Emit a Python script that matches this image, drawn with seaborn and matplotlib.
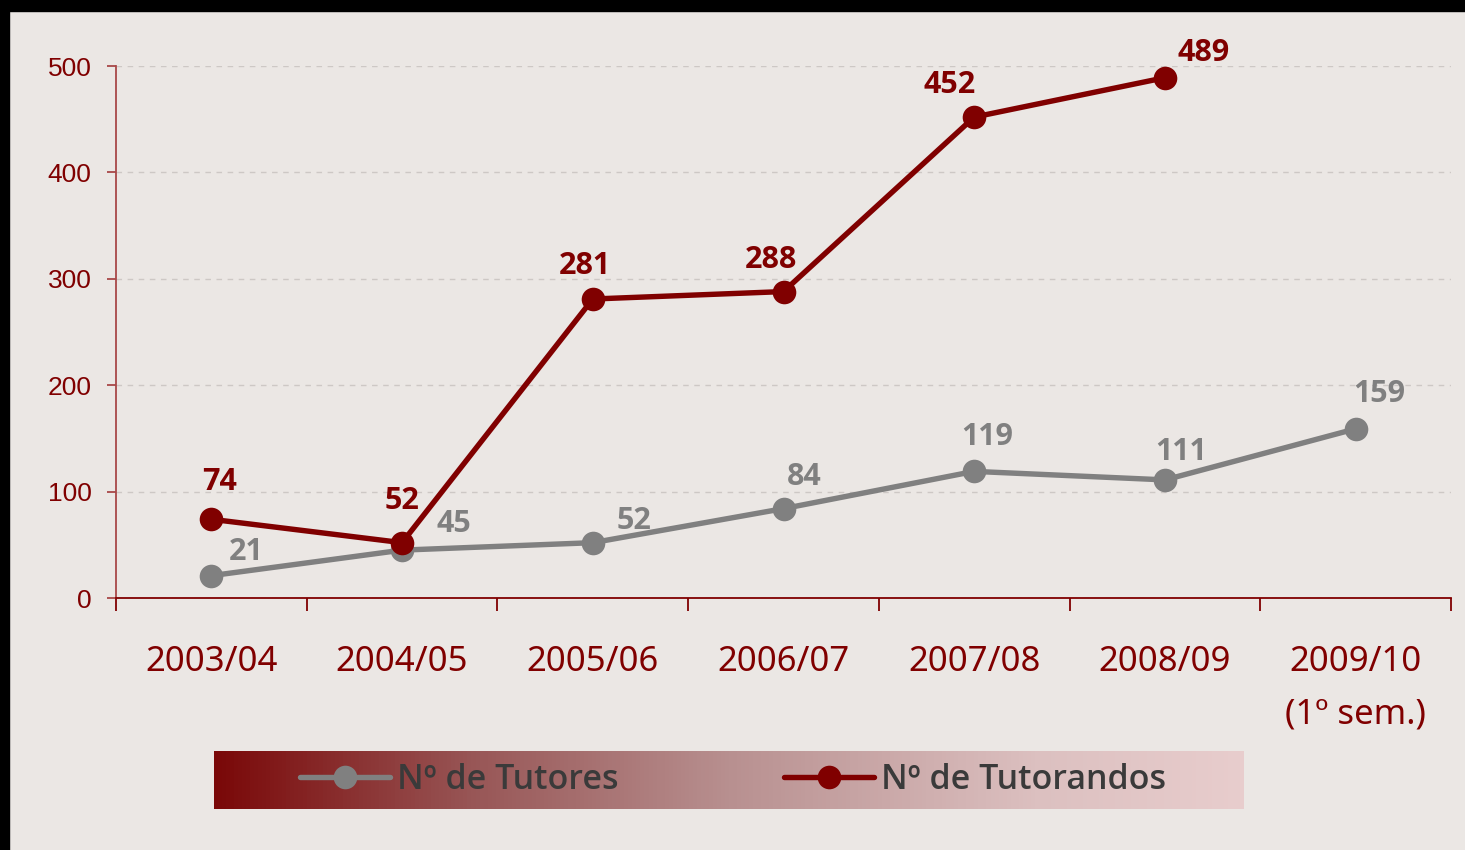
import numpy as np
import pandas as pd
import matplotlib
matplotlib.use("Agg")
import matplotlib.pyplot as plt
from matplotlib.colors import LinearSegmentedColormap
from matplotlib.lines import Line2D
from matplotlib.patches import Rectangle
import seaborn as sns

# dados
anos = ["2003/04", "2004/05", "2005/06", "2006/07", "2007/08", "2008/09", "2009/10\n(1º sem.)"]
tutores = [21, 45, 52, 84, 119, 111, 159]
tutorandos = [74, 52, 281, 288, 452, 489]
series = ["Nº de Tutores", "Nº de Tutorandos"]

# deslocamento dos rótulos (pontos)
off_tut = [(25, 11), (37, 13), (30, 10), (15, 17), (9, 19), (12, 14), (17, 19)]
off_tdo = [(6, 21), (0, 24), (-6, 18), (-9, 17), (-18, 17), (28, 12)]

VERM = "#800000"
CINZA = "#808080"
FUNDO = "#EBE7E4"

df = pd.concat([
    pd.DataFrame({"ano": anos, "valor": tutores, "serie": series[0]}),
    pd.DataFrame({"ano": anos[:len(tutorandos)], "valor": tutorandos, "serie": series[1]}),
], ignore_index=True)

sns.set_theme(style="white")
plt.rcParams["font.family"] = ["Noto Sans", "DejaVu Sans"]

fig = plt.figure(figsize=(14.65, 8.5), dpi=100, facecolor=FUNDO)
ax = fig.add_axes([116 / 1465, 1 - 598 / 850, 1335 / 1465, 532 / 850])
ax.set_facecolor(FUNDO)
ax.set_zorder(1)

sns.lineplot(data=df, x="ano", y="valor", hue="serie", hue_order=series,
             palette=[CINZA, VERM], marker="o", markersize=17, markeredgewidth=0,
             linewidth=3.9, sort=False, legend=False, ax=ax)

for i, v in enumerate(tutores):
    ax.annotate(str(v), (i, v), xytext=off_tut[i], textcoords="offset points",
                ha="center", va="baseline", fontsize=22, fontweight="bold",
                family="Open Sans", color=CINZA)
for i, v in enumerate(tutorandos):
    ax.annotate(str(v), (i, v), xytext=off_tdo[i], textcoords="offset points",
                ha="center", va="baseline", fontsize=22, fontweight="bold",
                family="Open Sans", color=VERM)

ax.set_xlim(-0.5, 6.5)
ax.set_ylim(0, 500)
ax.set_xlabel("")
ax.set_ylabel("")

ax.set_xticks(np.arange(-0.5, 7, 1))
ax.set_xticklabels([])
ax.set_xticks(range(len(anos)), labels=anos, minor=True)
ax.tick_params(axis="x", which="major", length=9, width=1.3, color=VERM, direction="out", bottom=True)
ax.tick_params(axis="x", which="minor", length=0, pad=34, labelsize=25, labelcolor=VERM)
for t in ax.get_xticklabels(minor=True):
    t.set_linespacing(1.72)

ax.set_yticks(range(0, 501, 100))
ax.tick_params(axis="y", length=6.5, width=1.3, color="#A84848", direction="out", left=True,
               pad=11, labelsize=19, labelcolor=VERM)
for t in ax.get_yticklabels():
    t.set_fontfamily("Liberation Sans")

ax.yaxis.grid(True, color="#CDC8C5", linestyle=(0, (4, 4)), linewidth=1)
ax.xaxis.grid(False)
for s in ["top", "right"]:
    ax.spines[s].set_visible(False)
ax.spines["bottom"].set_color(VERM)
ax.spines["bottom"].set_linewidth(1.3)
ax.spines["left"].set_color("#A84848")
ax.spines["left"].set_linewidth(1.3)
ax.spines["left"].set_bounds(0, 500)

# faixa da legenda em degradê
lax = fig.add_axes([214 / 1465, 1 - 809 / 850, 1030 / 1465, 58 / 850])
lax.set_zorder(0)
cmap = LinearSegmentedColormap.from_list("grad", [(0, "#7A0808"), (0.25, "#985656"),
                                                  (0.5, "#B89090"), (0.8, "#DCC0C0"),
                                                  (1, "#E8CDCD")])
lax.imshow(np.linspace(0, 1, 256).reshape(1, -1), aspect="auto", cmap=cmap, extent=[0, 1, 0, 1])
lax.set_axis_off()

handles = [Line2D([], [], color=CINZA, lw=3.9, marker="o", markersize=17, markeredgewidth=0),
           Line2D([], [], color=VERM, lw=3.9, marker="o", markersize=17, markeredgewidth=0)]
fig.legend(handles, series, loc="center", bbox_to_anchor=(733 / 1465, 1 - 780 / 850),
           ncol=2, frameon=False, labelcolor="#3A3A3A",
           prop={"family": "Open Sans", "weight": "semibold", "size": 24.5},
           handlelength=2.65, handletextpad=0.2, columnspacing=4.85)

# bordas pretas
fig.patches.append(Rectangle((0, 1 - 11 / 850), 1, 11 / 850, transform=fig.transFigure,
                             color="black", zorder=10))
fig.patches.append(Rectangle((0, 0), 9 / 1465, 1, transform=fig.transFigure,
                             color="black", zorder=10))

fig.savefig("out.png", dpi=100, facecolor=FUNDO)
